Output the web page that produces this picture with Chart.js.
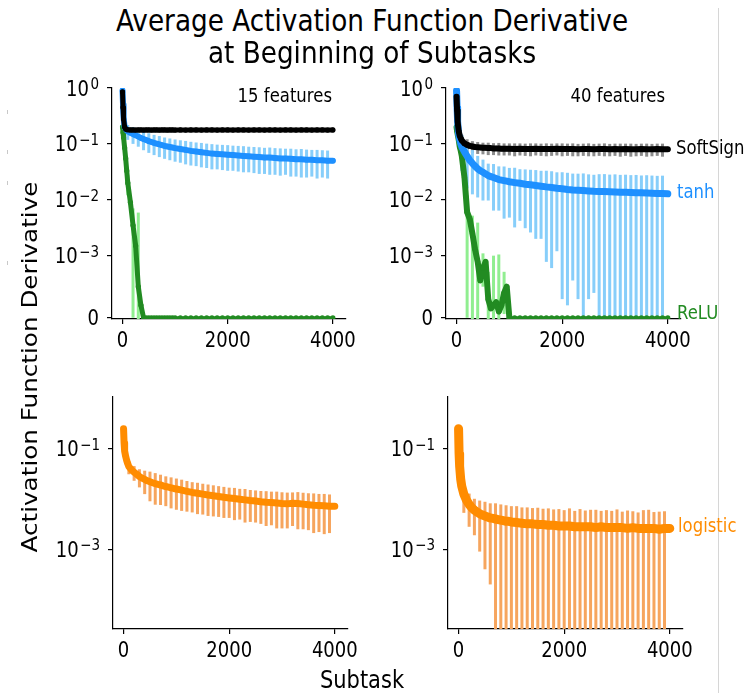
<!DOCTYPE html>
<html>
<head>
<meta charset="utf-8">
<script src="https://cdn.jsdelivr.net/npm/chart.js@4.4.1/dist/chart.umd.min.js"></script>
<style>
  body { margin: 0; background: #fff; }
  #fig { position: relative; width: 744px; height: 693px; overflow: hidden; font-family: 'DejaVu Sans', sans-serif; }
  #fig canvas { position: absolute; }
  .lbl { position: absolute; line-height: 1; white-space: nowrap; color: #000; }
  #edge { position: absolute; left: 718px; top: 8px; width: 1px; height: 685px; background: #d6d6d6; }
  .speck { position: absolute; left: 7px; width: 1px; height: 4px; background: #c8c8c8; }
</style>
</head>
<body>
<div id="fig">
  <div id="edge"></div>
  <div class="speck" style="top:110px"></div>
  <div class="speck" style="top:150px"></div>
  <div class="speck" style="top:181px"></div>
  <div class="speck" style="top:261px"></div>
  <div class="lbl" style="left:372px;top:21px;font-size:26.3px;transform:translate(-50%,-50%) scaleY(1.15)">Average Activation Function Derivative</div>
  <div class="lbl" style="left:372px;top:53px;font-size:26.3px;transform:translate(-50%,-50%) scaleY(1.15)">at Beginning of Subtasks</div>
  <div class="lbl" style="left:30px;top:367px;font-size:22px;transform:translate(-50%,-50%) rotate(-90deg) scaleX(1.12)">Activation Function Derivative</div>
  <div class="lbl" style="left:362px;top:681px;font-size:21px;transform:translate(-50%,-50%) scaleY(1.15)">Subtask</div>
  <div class="lbl" style="left:332px;top:97px;font-size:16.5px;transform:translate(-100%,-50%) scaleY(1.15)">15 features</div>
  <div class="lbl" style="left:665px;top:97px;font-size:16.5px;transform:translate(-100%,-50%) scaleY(1.15)">40 features</div>
  <div class="lbl" style="left:676px;top:149px;font-size:16.5px;transform:translateY(-50%) scaleY(1.15)">SoftSign</div>
  <div class="lbl" style="left:677px;top:193px;font-size:16.5px;color:#1e90ff;transform:translateY(-50%) scaleY(1.15)">tanh</div>
  <div class="lbl" style="left:677px;top:314px;font-size:16.5px;color:#228b22;transform:translateY(-50%) scaleY(1.15)">ReLU</div>
  <div class="lbl" style="left:678px;top:527px;font-size:16.5px;color:#ff8c00;transform:translateY(-50%) scaleY(1.15)">logistic</div>
</div>
<script>
// Subtasks at which the mean derivative is plotted
const subtasks = [0, 10, 20, 40, 60, 80,
  100, 150, 200, 250, 300, 350, 400, 450, 500, 550, 600, 650, 700, 750, 800, 850, 900, 950, 1000,
  1100, 1200, 1300, 1400, 1500, 1600, 1700, 1800, 1900, 2000, 2100, 2200, 2300, 2400, 2500,
  2600, 2700, 2800, 2900, 3000, 3100, 3200, 3300, 3400, 3500, 3600, 3700, 3800, 3900, 4000];

// Subtasks that carry an error bar (mean +/- std)
const barSubtasks = [100, 200, 300, 400, 500, 600, 700, 800, 900, 1000,
  1100, 1200, 1300, 1400, 1500, 1600, 1700, 1800, 1900, 2000,
  2100, 2200, 2300, 2400, 2500, 2600, 2700, 2800, 2900, 3000,
  3100, 3200, 3300, 3400, 3500, 3600, 3700, 3800, 3900];

const xTicks = [0, 2000, 4000];
const symlogTicks = [0, 0.001, 0.01, 0.1, 1];
const logTicks = [0.1, 0.001];

// ---- 15 features ----
const softsign15 = [0.85, 0.45, 0.28, 0.2, 0.185, 0.18,
  0.179, 0.178, 0.178, 0.177, 0.178, 0.178, 0.177, 0.178, 0.178, 0.177, 0.178, 0.178, 0.177, 0.178, 0.178, 0.177, 0.178, 0.178, 0.177,
  0.178, 0.177, 0.178, 0.178, 0.177, 0.178, 0.178, 0.177, 0.178, 0.178, 0.177, 0.178, 0.178, 0.177, 0.178,
  0.178, 0.177, 0.178, 0.178, 0.177, 0.178, 0.178, 0.177, 0.178, 0.178, 0.177, 0.178, 0.178, 0.177, 0.178];
const tanh15 = [0.9, 0.5, 0.3, 0.2, 0.185, 0.175,
  0.168, 0.158, 0.15, 0.142, 0.135, 0.128, 0.122, 0.117, 0.112, 0.108, 0.104, 0.101, 0.098, 0.095, 0.092, 0.09, 0.088, 0.086, 0.084,
  0.081, 0.078, 0.075, 0.073, 0.071, 0.069, 0.067, 0.066, 0.065, 0.064, 0.063, 0.062, 0.061, 0.06, 0.059,
  0.058, 0.057, 0.057, 0.056, 0.055, 0.055, 0.054, 0.053, 0.053, 0.052, 0.052, 0.051, 0.051, 0.05, 0.05];
const relu15 = [0.2, 0.16, 0.13, 0.085, 0.055, 0.033,
  0.02, 0.009, 0.0035, 0.0015, 0.0005, 0.0002, 0, 0, 0, 0, 0, 0, 0, 0, 0, 0, 0, 0, 0,
  0, 0, 0, 0, 0, 0, 0, 0, 0, 0, 0, 0, 0, 0, 0,
  0, 0, 0, 0, 0, 0, 0, 0, 0, 0, 0, 0, 0, 0, 0];
const logistic15 = [0.25, 0.13, 0.09, 0.07, 0.058, 0.05,
  0.044, 0.038, 0.034, 0.031, 0.028, 0.026, 0.0245, 0.023, 0.022, 0.021, 0.0202, 0.0195, 0.019, 0.0183, 0.0177, 0.0172, 0.0167, 0.0162, 0.0158,
  0.015, 0.0142, 0.0135, 0.013, 0.0125, 0.012, 0.0116, 0.0112, 0.0108, 0.0105, 0.0102, 0.0099, 0.0096, 0.0093, 0.0091,
  0.0088, 0.0086, 0.0085, 0.0083, 0.0081, 0.008, 0.0082, 0.0081, 0.0079, 0.0077, 0.0075, 0.0074, 0.0073, 0.0072, 0.0072];

const softsign15Std = [0.02, 0.015, 0.012, 0.012, 0.013, 0.012, 0.011, 0.012, 0.012, 0.011,
  0.012, 0.012, 0.011, 0.012, 0.011, 0.012, 0.012, 0.011, 0.012, 0.011,
  0.012, 0.012, 0.011, 0.012, 0.011, 0.012, 0.012, 0.011, 0.012, 0.011,
  0.012, 0.012, 0.011, 0.012, 0.011, 0.012, 0.012, 0.011, 0.012];
const tanh15Std = [0.05, 0.05, 0.046, 0.045, 0.043, 0.041, 0.04, 0.038, 0.037, 0.036,
  0.035, 0.035, 0.034, 0.033, 0.033, 0.032, 0.032, 0.031, 0.031, 0.031,
  0.03, 0.03, 0.03, 0.029, 0.029, 0.029, 0.028, 0.029, 0.028, 0.028,
  0.027, 0.028, 0.027, 0.028, 0.027, 0.026, 0.027, 0.026, 0.026];
const relu15Std = [0.008, 0.0035, 0.0054, 0, 0, 0, 0, 0, 0, 0,
  0, 0, 0, 0, 0, 0, 0, 0, 0, 0,
  0, 0, 0, 0, 0, 0, 0, 0, 0, 0,
  0, 0, 0, 0, 0, 0, 0, 0, 0];
const logistic15Std = [0.013, 0.011, 0.011, 0.012, 0.013, 0.0125, 0.0114, 0.0105, 0.0102, 0.0097,
  0.0092, 0.0086, 0.0081, 0.008, 0.0076, 0.0074, 0.0071, 0.0068, 0.0066, 0.0063,
  0.0064, 0.006, 0.0062, 0.0058, 0.0057, 0.0056, 0.0057, 0.0055, 0.0057, 0.0055,
  0.0054, 0.0053, 0.0056, 0.0054, 0.0053, 0.0054, 0.0052, 0.0053, 0.0051];

// ---- 40 features ----
const softsign40 = [0.7, 0.4, 0.25, 0.17, 0.14, 0.125,
  0.115, 0.102, 0.096, 0.092, 0.09, 0.088, 0.087, 0.086, 0.085, 0.085, 0.084, 0.084, 0.083, 0.083, 0.083, 0.082, 0.082, 0.082, 0.082,
  0.081, 0.082, 0.081, 0.081, 0.082, 0.081, 0.081, 0.081, 0.082, 0.081, 0.081, 0.081, 0.08, 0.081, 0.081,
  0.08, 0.081, 0.081, 0.08, 0.081, 0.08, 0.081, 0.08, 0.08, 0.081, 0.08, 0.08, 0.081, 0.08, 0.08];
const tanh40 = [0.9, 0.45, 0.25, 0.15, 0.12, 0.1,
  0.088, 0.072, 0.06, 0.051, 0.045, 0.04, 0.036, 0.033, 0.031, 0.029, 0.027, 0.026, 0.025, 0.024, 0.023, 0.0225, 0.022, 0.0215, 0.021,
  0.0203, 0.0197, 0.019, 0.0185, 0.018, 0.0175, 0.017, 0.0166, 0.0161, 0.0157, 0.0153, 0.015, 0.0148, 0.0146, 0.0144,
  0.0142, 0.0141, 0.014, 0.0139, 0.0138, 0.0137, 0.0136, 0.0135, 0.0134, 0.0133, 0.0132, 0.0131, 0.013, 0.0129, 0.0128];
const relu40 = [0.2, 0.17, 0.15, 0.12, 0.09, 0.075,
  0.06, 0.025, 0.006, 0.0045, 0.0025, 0.0013, 0.0009, 0.0006, 0.0008, 0.0009, 0.0003, 0.00015, 0.0002, 0.00025, 0.0001, 0.0002, 0.0004, 0.0005, 0,
  0, 0, 0, 0, 0, 0, 0, 0, 0, 0, 0, 0, 0, 0, 0,
  0, 0, 0, 0, 0, 0, 0, 0, 0, 0, 0, 0, 0, 0, 0];
const logistic40 = [0.25, 0.08, 0.045, 0.025, 0.018, 0.015,
  0.0125, 0.0095, 0.0078, 0.0067, 0.006, 0.0055, 0.0051, 0.0048, 0.0046, 0.0044, 0.0042, 0.0041, 0.004, 0.0039, 0.0038, 0.0037, 0.0036, 0.0036, 0.0035,
  0.0034, 0.0033, 0.0032, 0.0032, 0.0031, 0.0031, 0.003, 0.003, 0.0029, 0.0029, 0.0029, 0.0028, 0.0028, 0.0028, 0.0028,
  0.0027, 0.0028, 0.0027, 0.0027, 0.0027, 0.0027, 0.0026, 0.0027, 0.0026, 0.0026, 0.0026, 0.0026, 0.0025, 0.0026, 0.0026];

const softsign40Std = [0.03, 0.025, 0.022, 0.021, 0.02, 0.021, 0.02, 0.021, 0.02, 0.02,
  0.021, 0.02, 0.02, 0.021, 0.02, 0.02, 0.021, 0.02, 0.02, 0.021,
  0.02, 0.021, 0.02, 0.02, 0.021, 0.02, 0.02, 0.021, 0.02, 0.02,
  0.021, 0.02, 0.021, 0.02, 0.02, 0.021, 0.02, 0.02, 0.021];
const tanh40Std = [0.055, 0.044, 0.0325, 0.025, 0.0213, 0.0173, 0.0186, 0.0166, 0.0174, 0.0162,
  0.0171, 0.0155, 0.0159, 0.0159, 0.016, 0.0155, 0.0161, 0.0158, 0.0149, 0.0154,
  0.0151, 0.0144, 0.0145, 0.015, 0.0141, 0.0138, 0.0146, 0.0148, 0.0143, 0.0147,
  0.0142, 0.0145, 0.0141, 0.0144, 0.0139, 0.0143, 0.014, 0.0138, 0.0141];
const relu40Std = [0.02, 0.006, 0.0027, 0.003, 0.0003, 0.00044, 0.0008, 0.00095, 0.00034, 0,
  0, 0, 0, 0, 0, 0, 0, 0, 0, 0,
  0, 0, 0, 0, 0, 0, 0, 0, 0, 0,
  0, 0, 0, 0, 0, 0, 0, 0, 0];
const logistic40Std = [0.0072, 0.005, 0.0041, 0.0042, 0.0042, 0.004, 0.0042, 0.004, 0.0039, 0.0037,
  0.0038, 0.0035, 0.0036, 0.0034, 0.0036, 0.0033, 0.0035, 0.0032, 0.0034, 0.0031,
  0.0036, 0.003, 0.0035, 0.0031, 0.0033, 0.0034, 0.003, 0.0033, 0.0031, 0.0035,
  0.0029, 0.0033, 0.003, 0.0028, 0.0034, 0.0035, 0.0029, 0.0031, 0.0031];

// Text is drawn slightly taller than wide, like the rest of the figure
const STRETCH = 1.15;
const TICK_SIZE = 18;
const EXP_SIZE = 13.5;

// Symmetric log transform: linear below 1e-3, log above
const LINTHRESH = 1e-3;
const LINSCALE = 1 / (1 - 1 / 10);
function symT(v) {
  const a = Math.abs(v);
  const t = a <= LINTHRESH ? a / LINTHRESH * LINSCALE : LINSCALE + Math.log10(a / LINTHRESH);
  return v < 0 ? -t : t;
}
function symInv(t) {
  const a = Math.abs(t);
  const v = a <= LINSCALE ? a / LINSCALE * LINTHRESH : LINTHRESH * Math.pow(10, a - LINSCALE);
  return t < 0 ? -v : v;
}

class SymlogScale extends Chart.Scale {
  static id = 'symlog';
  static defaults = {};
  determineDataLimits() {
    this.min = this.options.min;
    this.max = this.options.max;
  }
  buildTicks() {
    return symlogTicks.map(value => ({ value }));
  }
  configure() {
    super.configure();
    this._tStart = symT(this.min);
    this._tRange = symT(this.max) - this._tStart;
  }
  getPixelForValue(value) {
    return this.getPixelForDecimal((symT(value) - this._tStart) / this._tRange);
  }
  getValueForPixel(pixel) {
    return symInv(this.getDecimalForPixel(pixel) * this._tRange + this._tStart);
  }
}
Chart.register(SymlogScale);

function drawStretched(ctx, text, x, y, size, align) {
  ctx.save();
  ctx.translate(x, y);
  ctx.scale(1, STRETCH);
  ctx.font = size + 'px "DejaVu Sans"';
  ctx.textAlign = align;
  ctx.textBaseline = 'alphabetic';
  ctx.fillStyle = '#000';
  ctx.fillText(text, 0, 0);
  ctx.restore();
}

// Vertical error bars, drawn under the dots
const errorBars = {
  id: 'errorBars',
  beforeDatasetsDraw(chart) {
    const { ctx, chartArea, scales: { x, y } } = chart;
    ctx.save();
    ctx.beginPath();
    ctx.rect(chartArea.left, chartArea.top, chartArea.width, chartArea.height);
    ctx.clip();
    ctx.lineWidth = 3;
    chart.data.datasets.forEach(ds => {
      ctx.strokeStyle = ds.errColor;
      barSubtasks.forEach((s, i) => {
        const sd = ds.errStd[i];
        if (!sd) return;
        const mean = ds.data.find(p => p.x === s).y;
        const lo = mean - sd;
        const px = x.getPixelForValue(s);
        const top = y.getPixelForValue(mean + sd);
        const bottom = (y.type === 'logarithmic' && lo <= 0) ? chartArea.bottom + 2 : y.getPixelForValue(lo);
        ctx.beginPath();
        ctx.moveTo(px, top);
        ctx.lineTo(px, bottom);
        ctx.stroke();
      });
    });
    ctx.restore();
  }
};

// Tick labels, with powers of ten written as 10 and a raised exponent
const tickLabels = {
  id: 'tickLabels',
  afterDraw(chart) {
    const { ctx, chartArea, scales: { x, y } } = chart;
    x.ticks.forEach(t => {
      drawStretched(ctx, String(t.value), x.getPixelForValue(t.value), chartArea.bottom + 27.5, TICK_SIZE, 'center');
    });
    const right = chartArea.left - 13;
    y.ticks.forEach(t => {
      const py = y.getPixelForValue(t.value);
      if (t.value === 0) {
        drawStretched(ctx, '0', right, py + 7.5, TICK_SIZE, 'right');
        return;
      }
      const e = Math.round(Math.log10(t.value));
      const expText = e < 0 ? '\u2212' + (-e) : String(e);
      ctx.font = EXP_SIZE + 'px "DejaVu Sans"';
      const w = ctx.measureText(expText).width;
      drawStretched(ctx, expText, right, py + 1, EXP_SIZE, 'right');
      drawStretched(ctx, '10', right - w - 1.5, py + 7.5, TICK_SIZE, 'right');
    });
  }
};

// thick: line width while the derivative is above zero; thin: along zero
function series(values, color, thick, std, barColor, thin) {
  return {
    data: values.map((y, i) => ({ x: subtasks[i], y })),
    borderColor: color,
    backgroundColor: color,
    borderWidth: thick,
    segment: thin ? { borderWidth: c => (c.p0.parsed.y > 0 || c.p1.parsed.y > 0) ? thick : thin } : undefined,
    pointRadius: 2.6,
    pointBorderWidth: 0,
    pointBackgroundColor: color,
    borderJoinStyle: 'round',
    borderCapStyle: 'round',
    tension: 0,
    fill: false,
    errStd: std,
    errColor: barColor
  };
}

const axisStyle = {
  grid: { drawOnChartArea: false, drawTicks: true, tickLength: 5, color: '#000', lineWidth: 1.2 },
  border: { display: true, color: '#000', width: 1.2 },
  ticks: { display: false }
};

function makePanel(box, area, yScale, datasets) {
  const canvas = document.createElement('canvas');
  canvas.width = box.width;
  canvas.height = box.height;
  canvas.style.left = box.left + 'px';
  canvas.style.top = box.top + 'px';
  document.getElementById('fig').insertBefore(canvas, document.getElementById('edge'));

  new Chart(canvas.getContext('2d'), {
    type: 'line',
    data: { datasets },
    options: {
      responsive: false,
      animation: false,
      events: [],
      layout: { padding: { left: 0, top: area.top - box.top, right: box.left + box.width - area.right, bottom: 0 } },
      plugins: { legend: { display: false }, tooltip: { enabled: false } },
      scales: {
        x: Object.assign({
          type: 'linear', min: -200, max: 4250, bounds: 'data',
          afterBuildTicks: s => { s.ticks = xTicks.map(value => ({ value })); },
          afterFit: s => { s.height = box.top + box.height - area.bottom; }
        }, axisStyle),
        y: Object.assign({
          afterFit: s => { s.width = area.left - box.left; }
        }, yScale, axisStyle)
      }
    },
    plugins: [errorBars, tickLabels]
  });
}

const topY = { type: 'symlog', min: -2e-5, max: 1 };
const bottomY = {
  type: 'logarithmic', min: 2.6e-5, max: 1.066, bounds: 'data',
  afterBuildTicks: s => { s.ticks = logTicks.map(value => ({ value })); }
};

makePanel({ left: 0, top: 60, width: 365, height: 300 }, { left: 112, top: 88, right: 346, bottom: 319 }, topY, [
  series(softsign15, '#000000', 5, softsign15Std, '#8c8c8c'),
  series(tanh15, '#1e90ff', 6, tanh15Std, '#87cefa'),
  series(relu15, '#228b22', 5, relu15Std, '#90ee90', 3)
]);
makePanel({ left: 365, top: 60, width: 379, height: 300 }, { left: 446, top: 88, right: 681, bottom: 319 }, topY, [
  series(softsign40, '#000000', 6, softsign40Std, '#8c8c8c'),
  series(tanh40, '#1e90ff', 7, tanh40Std, '#87cefa'),
  series(relu40, '#228b22', 6, relu40Std, '#90ee90', 3)
]);
makePanel({ left: 0, top: 370, width: 365, height: 300 }, { left: 113, top: 397, right: 348, bottom: 629 }, bottomY, [
  series(logistic15, '#ff8c00', 7, logistic15Std, '#f6a55e')
]);
makePanel({ left: 365, top: 370, width: 379, height: 300 }, { left: 448, top: 397, right: 683, bottom: 629 }, bottomY, [
  series(logistic40, '#ff8c00', 9, logistic40Std, '#f6a55e')
]);
</script>
</body>
</html>
